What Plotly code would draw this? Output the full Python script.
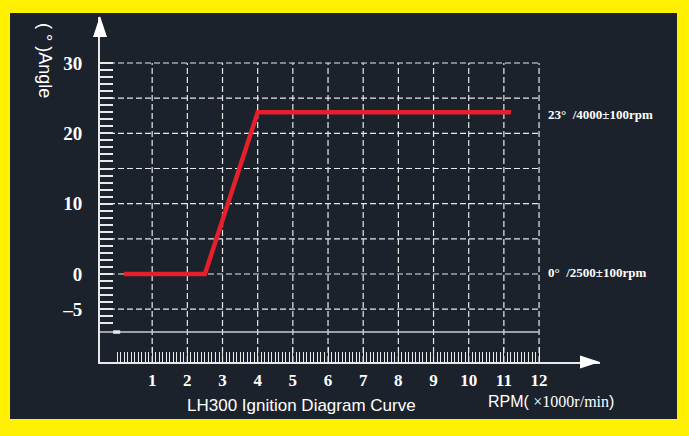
import plotly.graph_objects as go

# ---- data ----
rpm_k = [0.2, 2.5, 4.0, 11.2]          # RPM x1000
angle = [0, 0, 23, 23]                 # ignition advance angle (deg)

x_ticks = [1, 2, 3, 4, 5, 6, 7, 8, 9, 10, 11, 12]
y_ticks = [-5, 0, 10, 20, 30]
y_tick_text = ["–5", "0", "10", "20", "30"]
y_grid = [-5, 0, 5, 10, 15, 20, 25, 30]
x_grid = [1, 2, 3, 4, 5, 6, 7, 8, 9, 10, 11, 12]

note_hi = "23°  /4000±100rpm"
note_lo = "0°  /2500±100rpm"
title_text = "LH300 Ignition Diagram Curve"
x_title = "RPM( <span style='font-family:Liberation Serif'>×1000r/min</span>)"
y_title = "( ° )Angle"

# ---- style ----
BG = "#1b222c"
YEL = "#fff100"
WHITE = "#e8e8e8"
RED = "#e3202b"

X_RANGE = [-0.4834, 13.733]
Y_RANGE = [-12.51, 36.54]
BASE_Y = -8.25

fig = go.Figure()
fig.add_trace(go.Scatter(x=rpm_k, y=angle, mode="lines",
                         line=dict(color=RED, width=4.5),
                         hoverinfo="skip", showlegend=False))

shapes = []
# dark panel inside the yellow frame
shapes.append(dict(type="rect", xref="paper", yref="paper",
                   x0=-0.18, x1=1.154, y0=-0.1652, y1=1.0116,
                   fillcolor=BG, line=dict(width=0), layer="below"))
# horizontal dashed grid
for gy in y_grid:
    shapes.append(dict(type="line", xref="x", yref="y",
                       x0=X_RANGE[0], x1=x_grid[-1], y0=gy, y1=gy,
                       line=dict(color=WHITE, width=1.2, dash="6px,3px"),
                       layer="below"))
# vertical dashed grid
for gx in x_grid:
    shapes.append(dict(type="line", xref="x", yref="y",
                       x0=gx, x1=gx, y0=Y_RANGE[0], y1=y_grid[-1],
                       line=dict(color=WHITE, width=1.2, dash="6px,3px"),
                       layer="below"))
# solid base line
shapes.append(dict(type="line", xref="x", yref="y",
                   x0=X_RANGE[0], x1=x_grid[-1], y0=BASE_Y, y1=BASE_Y,
                   line=dict(color="#c9ced3", width=1.5), layer="below"))
shapes.append(dict(type="line", xref="x", yref="y",
                   x0=-0.11, x1=0.09, y0=BASE_Y, y1=BASE_Y,
                   line=dict(color=WHITE, width=3.5), layer="below"))
# arrow heads
shapes.append(dict(type="path", xref="paper", yref="paper",
                   path="M -0.014 0.942 L 0 1.003 L 0.014 0.942 Z",
                   fillcolor="white", line=dict(width=0)))
shapes.append(dict(type="path", xref="paper", yref="paper",
                   path="M 0.96 -0.0188 L 1.0 0 L 0.96 0.0188 Z",
                   fillcolor="white", line=dict(width=0)))

x_major = [i / 2 for i in range(1, 25)]
x_major_text = [str(int(v)) if v == int(v) else "" for v in x_major]
x_minor = [i / 10 for i in range(0, 121)]

annotations = [
    dict(text=note_hi, xref="paper", yref="paper", x=(546 - 100) / 500,
         y=(362 - 114) / 345, xanchor="left", yanchor="middle", showarrow=False,
         font=dict(family="Liberation Serif", size=13, color="white", weight="bold")),
    dict(text=note_lo, xref="paper", yref="paper", x=(546 - 100) / 500,
         y=(362 - 272) / 345, xanchor="left", yanchor="middle", showarrow=False,
         font=dict(family="Liberation Serif", size=13, color="white", weight="bold")),
    dict(text=title_text, xref="paper", yref="paper", x=(301 - 100) / 500,
         y=(362 - 405) / 345, xanchor="center", yanchor="middle", showarrow=False,
         font=dict(family="Liberation Sans", size=17, color="white")),
    dict(text=x_title, xref="paper", yref="paper", x=(486 - 100) / 500,
         y=(362 - 401) / 345, xanchor="left", yanchor="middle", showarrow=False,
         font=dict(family="Liberation Sans", size=16, color="white")),
    dict(text=y_title, xref="paper", yref="paper", x=(45 - 100) / 500,
         y=(362 - 60) / 345, xanchor="center", yanchor="middle", showarrow=False,
         textangle=90,
         font=dict(family="Liberation Sans", size=18, color="white")),
]

fig.update_layout(
    width=689, height=436,
    margin=dict(l=100, r=89, t=17, b=74, pad=0),
    paper_bgcolor=YEL, plot_bgcolor="rgba(0,0,0,0)",
    shapes=shapes, annotations=annotations, showlegend=False,
    xaxis=dict(range=X_RANGE, showgrid=False, zeroline=False,
               showline=True, linecolor=WHITE, linewidth=2,
               tickmode="array", tickvals=x_major, ticktext=x_major_text,
               ticks="inside", ticklen=15, tickcolor=WHITE, tickwidth=1.2,
               ticklabelstandoff=2,
               minor=dict(tickmode="array", tickvals=x_minor, ticks="inside",
                          ticklen=10, tickcolor=WHITE, tickwidth=1.2),
               tickfont=dict(family="Liberation Serif", size=17, color="white",
                             weight="bold")),
    yaxis=dict(range=Y_RANGE, showgrid=False, zeroline=False,
               showline=True, linecolor=WHITE, linewidth=2,
               tickmode="array", tickvals=y_ticks, ticktext=y_tick_text,
               ticks="inside", ticklen=13, tickcolor=WHITE, tickwidth=1.5,
               ticklabelstandoff=12,
               minor=dict(tickmode="array", tickvals=list(range(-7, 31)),
                          ticks="inside", ticklen=13, tickcolor=WHITE, tickwidth=1.5),
               tickfont=dict(family="Liberation Serif", size=19, color="white",
                             weight="bold")),
)

fig.write_html("out.html", config={"displayModeBar": False},
               post_script="document.body.style.margin='0';")
